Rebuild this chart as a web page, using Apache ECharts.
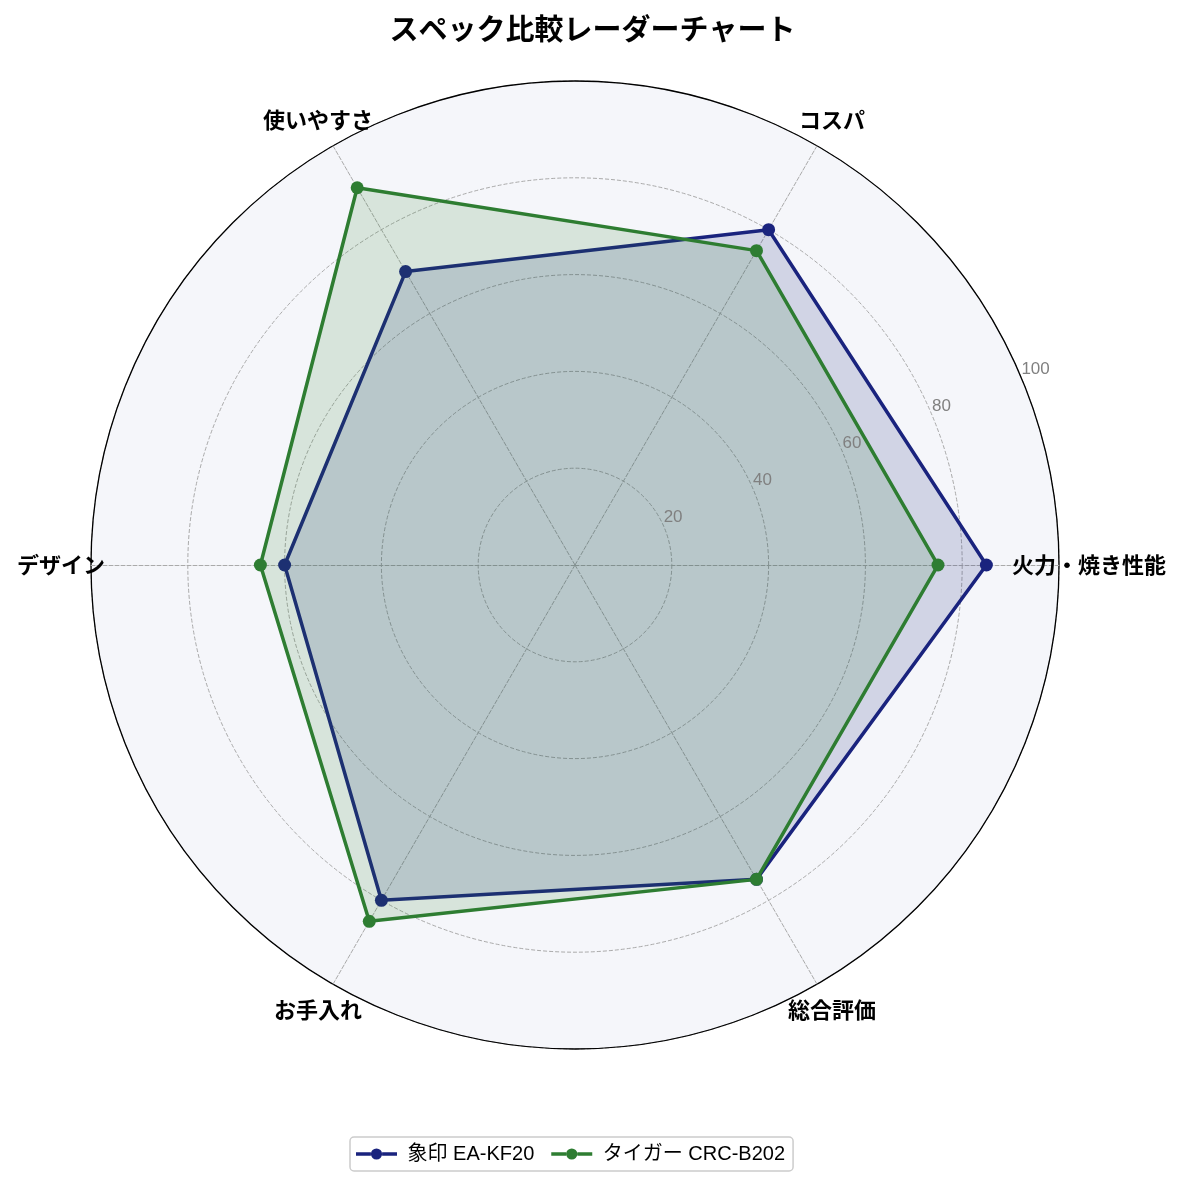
<!DOCTYPE html>
<html><head><meta charset="utf-8">
<script src="https://cdn.jsdelivr.net/npm/echarts@6/dist/echarts.min.js"></script>
<style>html,body{margin:0;padding:0;background:#fff}#c{width:1185px;height:1186px}</style>
</head><body><div id="c"></div>
<script>
const categories = ['火力・焼き性能', 'コスパ', '使いやすさ', 'デザイン', 'お手入れ', '総合評価'];
const seriesNames = ['象印 EA-KF20', 'タイガー CRC-B202'];
const zojirushi = [85, 80, 70, 60, 80, 75];
const tiger = [75, 75, 90, 65, 85, 75];
const radialTicks = [0, 20, 40, 60, 80, 100];

const font = '"Liberation Sans", "Noto Sans CJK JP", sans-serif';
const cjkFont = '"Noto Sans CJK JP", sans-serif';
const C = ['575', '565'];
const R = 484;
const legendIcon = 'path://M0,4.25h16v3.5h-16z M22,0a6,6 0 1,0 0.001,0z M28,4.25h16v3.5h-16z';
const chart = echarts.init(document.getElementById('c'));
chart.setOption({
  backgroundColor: '#ffffff',
  title: {
    text: 'スペック比較レーダーチャート', left: 'center', top: 9,
    textStyle: { fontFamily: cjkFont, fontSize: 29, fontWeight: 'bold', color: '#000' }
  },
  legend: {
    bottom: 15, left: 350,
    data: seriesNames.map(n => ({ name: n, icon: legendIcon })),
    formatter: n => ' ' + n,
    itemWidth: 41, itemHeight: 12, itemGap: 17,
    padding: [7, 8, 7, 6], borderColor: '#cccccc', borderWidth: 1.5, borderRadius: 4,
    textStyle: { fontFamily: font, fontSize: 20, color: '#000' }
  },
  radar: {
    center: C, radius: R, shape: 'circle', startAngle: 0, splitNumber: 5,
    indicator: categories.map(n => ({ name: n, min: 0, max: 100 })),
    axisName: { color: '#000', fontFamily: cjkFont, fontSize: 22, fontWeight: 'bold', align: 'center', verticalAlign: 'middle' },
    nameGap: 30,
    axisLine: { lineStyle: { color: '#aaaaaa', type: 'dashed', width: 1 } },
    splitLine: { lineStyle: { color: '#aaaaaa', type: 'dashed', width: 1 } },
    splitArea: { show: true, areaStyle: { color: ['#f5f6fa'] } },
    axisTick: { show: false }, axisLabel: { show: false }
  },
  polar: { center: C, radius: R },
  angleAxis: {
    type: 'value', min: 0, max: 360, startAngle: 22.5, clockwise: false,
    axisLine: { show: true, lineStyle: { color: '#000', width: 1.3 } },
    axisTick: { show: false }, axisLabel: { show: false }, splitLine: { show: false }
  },
  radiusAxis: {
    type: 'value', min: radialTicks[0], max: radialTicks[radialTicks.length - 1], interval: 20,
    axisLine: { show: false }, axisTick: { show: false }, splitLine: { show: false },
    axisLabel: {
      color: '#808080', fontFamily: font, fontSize: 17, align: 'left', verticalAlign: 'bottom', margin: 2,
      formatter: v => (v === 0 ? '' : String(v))
    },
    z: 10
  },
  series: [
    {
      type: 'radar', name: seriesNames[0], z: 3,
      symbol: 'circle', symbolSize: 13,
      lineStyle: { color: '#1a237e', width: 3.5 },
      itemStyle: { color: '#1a237e' },
      areaStyle: { color: '#1a237e', opacity: 0.16 },
      data: [{ value: zojirushi, name: seriesNames[0] }]
    },
    {
      type: 'radar', name: seriesNames[1], z: 4,
      symbol: 'circle', symbolSize: 13,
      lineStyle: { color: '#2e7d32', width: 3.5 },
      itemStyle: { color: '#2e7d32' },
      areaStyle: { color: '#2e7d32', opacity: 0.15 },
      data: [{ value: tiger, name: seriesNames[1] }]
    }
  ]
});
</script></body></html>
